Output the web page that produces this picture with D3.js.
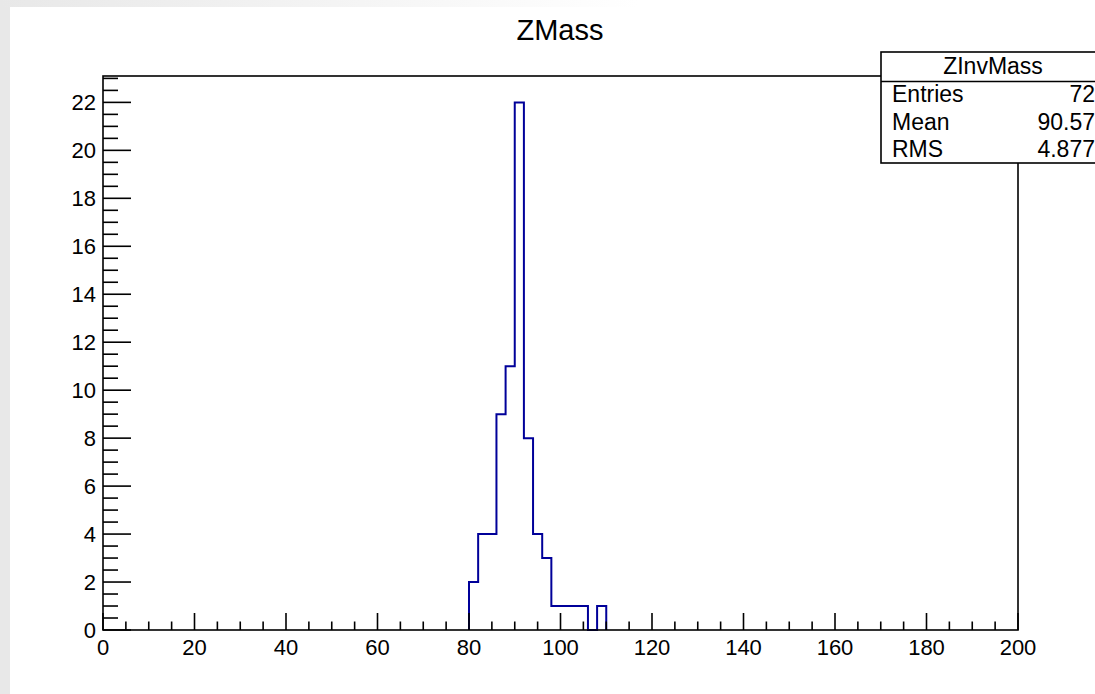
<!DOCTYPE html>
<html>
<head>
<meta charset="utf-8">
<script src="https://cdn.jsdelivr.net/npm/d3@7"></script>
<style>
  body { margin: 0; overflow: hidden; background: #fff; }
  svg { display: block; font-family: "Liberation Sans", Arial, sans-serif; }
</style>
</head>
<body>
<svg id="chart" width="1095" height="694"></svg>
<script>
// histogram "ZInvMass", bins of width 2 GeV, only the filled region listed
var binLowEdges = [80, 82, 84, 86, 88, 90, 92, 94, 96, 98, 100, 102, 104, 106, 108];
var binCounts   = [2, 4, 4, 9, 11, 22, 8, 4, 3, 1, 1, 1, 1, 0, 1];
var binWidth = 2;

var xDomain = [0, 200];
var yDomain = [0, 23.1];
var xMajorTicks = [0, 20, 40, 60, 80, 100, 120, 140, 160, 180, 200];
var yMajorTicks = [0, 2, 4, 6, 8, 10, 12, 14, 16, 18, 20, 22];

var statsTitle = "ZInvMass";
var statsLabels = ["Entries", "Mean", "RMS"];
var statsValues = ["72", "90.57", "4.877"];

var svg = d3.select('#chart');

// grey window border: solid on the left, fading out along the top
var grad = svg.append('defs').append('linearGradient').attr('id', 'topfade');
grad.append('stop').attr('offset', '0%').attr('stop-color', '#e8e8e8');
grad.append('stop').attr('offset', '100%').attr('stop-color', '#ffffff');
svg.append('rect').attr('width', 1095).attr('height', 694).attr('fill', '#fff');
svg.append('rect').attr('x', 0).attr('y', 0).attr('width', 10).attr('height', 694).attr('fill', '#e8e8e8');
svg.append('rect').attr('x', 0).attr('y', 0).attr('width', 640).attr('height', 7).attr('fill', 'url(#topfade)');

// frame edges (don't use "top", it's window.top)
var fL = 103, fR = 1018, fT = 76, fB = 630;

var x = d3.scaleLinear().domain(xDomain).range([fL, fR]);
var y = d3.scaleLinear().domain(yDomain).range([fB, fT]);

// title
svg.append('text')
  .attr('x', 560).attr('y', 40)
  .attr('text-anchor', 'middle')
  .attr('font-size', 29)
  .text('ZMass');

// histogram outline
var pts = [[binLowEdges[0], 0]];
binLowEdges.forEach(function(lo, i) {
  pts.push([lo, binCounts[i]]);
  pts.push([lo + binWidth, binCounts[i]]);
});
pts.push([binLowEdges[binLowEdges.length - 1] + binWidth, 0]);

var line = d3.line()
  .x(function(d) { return x(d[0]); })
  .y(function(d) { return y(d[1]); });

svg.append('path')
  .datum(pts)
  .attr('d', line)
  .attr('fill', 'none')
  .attr('stroke', '#000099')
  .attr('stroke-width', 2);

// frame
svg.append('rect')
  .attr('x', fL).attr('y', fT)
  .attr('width', fR - fL).attr('height', fB - fT)
  .attr('fill', 'none')
  .attr('stroke', '#000')
  .attr('stroke-width', 1.6);

// x ticks (pointing up, inside)
var xMinor = d3.range(xDomain[0], xDomain[1] + 0.1, 5);
var gx = svg.append('g').attr('stroke', '#000').attr('stroke-width', 1.6);
gx.selectAll('line')
  .data(xMinor)
  .enter().append('line')
  .attr('x1', function(d) { return x(d); })
  .attr('x2', function(d) { return x(d); })
  .attr('y1', fB)
  .attr('y2', function(d) { return fB - (d % 20 === 0 ? 17 : 8.5); });

svg.append('g').selectAll('text')
  .data(xMajorTicks)
  .enter().append('text')
  .attr('x', function(d) { return x(d); })
  .attr('y', 655)
  .attr('text-anchor', 'middle')
  .attr('font-size', 22)
  .text(function(d) { return d; });

// y ticks (pointing right, inside)
var yMinor = d3.range(0, 23.01, 0.5);
var gy = svg.append('g').attr('stroke', '#000').attr('stroke-width', 1.6);
gy.selectAll('line')
  .data(yMinor)
  .enter().append('line')
  .attr('x1', fL)
  .attr('x2', function(d) { return fL + (d % 2 === 0 ? 28 : 15); })
  .attr('y1', function(d) { return y(d); })
  .attr('y2', function(d) { return y(d); });

svg.append('g').selectAll('text')
  .data(yMajorTicks)
  .enter().append('text')
  .attr('x', 96)
  .attr('y', function(d) { return y(d); })
  .attr('dy', '0.36em')
  .attr('text-anchor', 'end')
  .attr('font-size', 22)
  .text(function(d) { return d; });

// stats box
var sb = svg.append('g');
sb.append('rect')
  .attr('x', 881).attr('y', 52)
  .attr('width', 240).attr('height', 111)
  .attr('fill', '#fff')
  .attr('stroke', '#000')
  .attr('stroke-width', 1.6);
sb.append('line')
  .attr('x1', 881).attr('x2', 1100)
  .attr('y1', 81.5).attr('y2', 81.5)
  .attr('stroke', '#000').attr('stroke-width', 1.6);
sb.append('text')
  .attr('x', 993).attr('y', 74)
  .attr('text-anchor', 'middle')
  .attr('font-size', 23)
  .text(statsTitle);

var rowY = [102, 130, 157];
statsLabels.forEach(function(lab, i) {
  sb.append('text')
    .attr('x', 892).attr('y', rowY[i])
    .attr('font-size', 23)
    .text(lab);
  sb.append('text')
    .attr('x', 1095).attr('y', rowY[i])
    .attr('text-anchor', 'end')
    .attr('font-size', 23)
    .text(statsValues[i]);
});
</script>
</body>
</html>
